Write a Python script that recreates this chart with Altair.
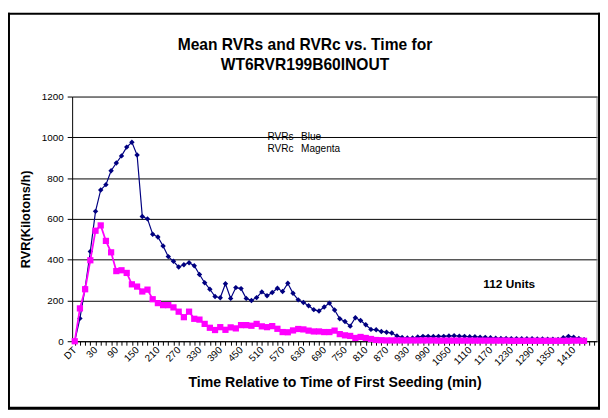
import json
import altair as alt
import pandas as pd

# ---------------- data ----------------
times = ["DT", "-15", "0", "15", "30", "45", "60", "75", "90", "105", "120", "135", "150",
         "165", "180", "195", "210", "225", "240", "255", "270", "285", "300", "315", "330",
         "345", "360", "375", "390", "405", "420", "435", "450", "465", "480", "495", "510",
         "525", "540", "555", "570", "585", "600", "615", "630", "645", "660", "675", "690",
         "705", "720", "735", "750", "765", "780", "795", "810", "825", "840", "855", "870",
         "885", "900", "915", "930", "945", "960", "975", "990", "1005", "1020", "1035", "1050",
         "1065", "1080", "1095", "1110", "1125", "1140", "1155", "1170", "1185", "1200", "1215",
         "1230", "1245", "1260", "1275", "1290", "1305", "1320", "1335", "1350", "1365", "1380",
         "1395", "1410", "1425", "1440", "1455", "1470"]

shown_labels = ["DT", "30", "90", "150", "210", "270", "330", "390", "450", "510", "570",
                "630", "690", "750", "810", "870", "930", "990", "1050", "1110", "1170",
                "1230", "1290", "1350", "1410"]

rvrs = [0, 112, 261, 440, 637, 742, 768, 836, 874, 909, 952, 976, 913, 612, 600, 525, 511,
        467, 415, 392, 364, 375, 385, 370, 327, 287, 255, 219, 213, 282, 210, 263, 258, 210,
        200, 214, 242, 223, 239, 260, 244, 284, 235, 203, 190, 174, 155, 148, 168, 187, 153,
        110, 97, 74, 115, 102, 81, 58, 56, 48, 44, 40, 26, 18, 16, 16, 21, 24, 24, 23, 24, 24,
        26, 27, 25, 24, 22, 22, 20, 19, 17, 15, 14, 14, 13, 13, 12, 12, 12, 11, 11, 10, 10, 9,
        17, 24, 20, 14, 8]

rvrc = [0, 161, 255, 397, 542, 568, 492, 436, 344, 348, 335, 279, 268, 244, 253, 206, 187,
        177, 177, 166, 145, 118, 145, 110, 106, 85, 66, 55, 69, 56, 68, 63, 79, 79, 76, 85,
        73, 69, 74, 61, 45, 44, 53, 60, 58, 52, 48, 48, 45, 45, 52, 35, 29, 26, 16, 21, 16,
        11, 6, 5, 4, 4, 4, 4, 4, 4, 4, 4, 4, 4, 3, 3, 3, 3, 3, 3, 3, 3, 3, 3, 3, 3, 3, 3, 2,
        2, 2, 2, 2, 2, 2, 2, 2, 2, 2, 2, 3, 3, 2]

title_lines = ["Mean RVRs and RVRc vs. Time for", "WT6RVR199B60INOUT"]
legend_names = ["RVRs", "RVRc"]
legend_colors = ["Blue", "Magenta"]
units_note = "112 Units"

df_s = pd.DataFrame({"time": times[:len(rvrs)], "value": rvrs})
df_c = pd.DataFrame({"time": times[:len(rvrc)], "value": rvrc})

FONT = "Liberation Sans"
W, H = 532, 248
NAVY = "#000080"
MAGENTA = "#FF00FF"

label_expr = "indexof(" + json.dumps(shown_labels) + ", datum.value) >= 0 ? datum.value : ''"

xenc = alt.X(
    "time:O",
    sort=times,
    scale=alt.Scale(type="point", domain=times, padding=0.5),
    axis=alt.Axis(
        title="Time Relative to Time of First Seeding (min)",
        labelExpr=label_expr,
        labelAngle=315,
        labelAlign="right",
        labelBaseline="middle",
        labelOverlap=False,
        labelFont=FONT,
        labelFontSize=10,
        labelColor="#000000",
        labelPadding=3,
        tickSize=4,
        tickColor="#000000",
        domainColor="#000000",
        titleFont=FONT,
        titleFontSize=14.3,
        titleFontWeight="bold",
        titleColor="#000000",
        titleY=46,
        titleBaseline="alphabetic",
    ),
)

yenc = alt.Y(
    "value:Q",
    scale=alt.Scale(domain=[0, 1200], nice=False),
    axis=alt.Axis(
        values=[0, 200, 400, 600, 800, 1000, 1200],
        format="d",
        grid=True,
        gridColor="#000000",
        gridWidth=1,
        tickSize=5,
        tickColor="#000000",
        domainColor="#000000",
        labelFont=FONT,
        labelFontSize=10,
        labelColor="#000000",
        labelPadding=4,
        title="RVR(Kilotons/h)",
        titleFont=FONT,
        titleFontSize=13,
        titleFontWeight="bold",
        titleColor="#000000",
        titleAngle=270,
        titleX=-47,
        titleY=H / 2,
        titleAlign="center",
        titleBaseline="middle",
    ),
)

line_s = alt.Chart(df_s).mark_line(color=NAVY, strokeWidth=1.2).encode(x=xenc, y=yenc)
pts_s = alt.Chart(df_s).mark_point(shape="diamond", filled=True, size=30, color=NAVY,
                                   opacity=1).encode(x=xenc, y=yenc)
line_c = alt.Chart(df_c).mark_line(color=MAGENTA, strokeWidth=1.8).encode(x=xenc, y=yenc)
pts_c = alt.Chart(df_c).mark_square(size=40, color=MAGENTA, opacity=1).encode(x=xenc, y=yenc)

ann = pd.DataFrame({"dummy": [0]})

def text_at(txt, x, y, size, bold=False, align="left"):
    return alt.Chart(ann).mark_text(
        text=txt, font=FONT, fontSize=size, fontWeight="bold" if bold else "normal",
        align=align, baseline="alphabetic", color="#000000"
    ).encode(x=alt.value(x), y=alt.value(y))

t1 = text_at(title_lines[0], 236, -47, 15.8, True, "center")
t2 = text_at(title_lines[1], 236, -27, 15.8, True, "center")
l1a = text_at(legend_names[0], 198, 44.5, 10.2)
l1b = text_at(legend_colors[0], 232, 44.5, 10.2)
l2a = text_at(legend_names[1], 198, 56.5, 10.2)
l2b = text_at(legend_colors[1], 232, 56.5, 10.2)
u1 = text_at(units_note, 443, 194, 12, True, "center")

def rule(x, x2, y, y2, w, c="#000000"):
    return alt.Chart(ann).mark_rule(color=c, strokeWidth=w).encode(
        x=alt.value(x), x2=alt.value(x2), y=alt.value(y), y2=alt.value(y2))

frame_top = rule(-65, 535, -84, -84, 2)
frame_bot = rule(-65, 535, 316, 316, 3)
frame_left = rule(-64, -64, -85, 317, 2)
frame_right = rule(534, 534, -85, 317, 2)
plot_right = rule(W, W, 0, H, 1, "#808080")

chart = alt.layer(
    frame_top, frame_bot, frame_left, frame_right, plot_right,
    line_s, pts_s, line_c, pts_c, t1, t2, l1a, l1b, l2a, l2b, u1
).properties(
    width=W, height=H,
    autosize=alt.AutoSizeParams(type="none"),
    padding={"left": 65, "top": 87, "right": 3, "bottom": 70},
    background="#ffffff",
).configure_view(stroke=None)

chart.save("out.html", embed_options={"renderer": "svg", "actions": False})
